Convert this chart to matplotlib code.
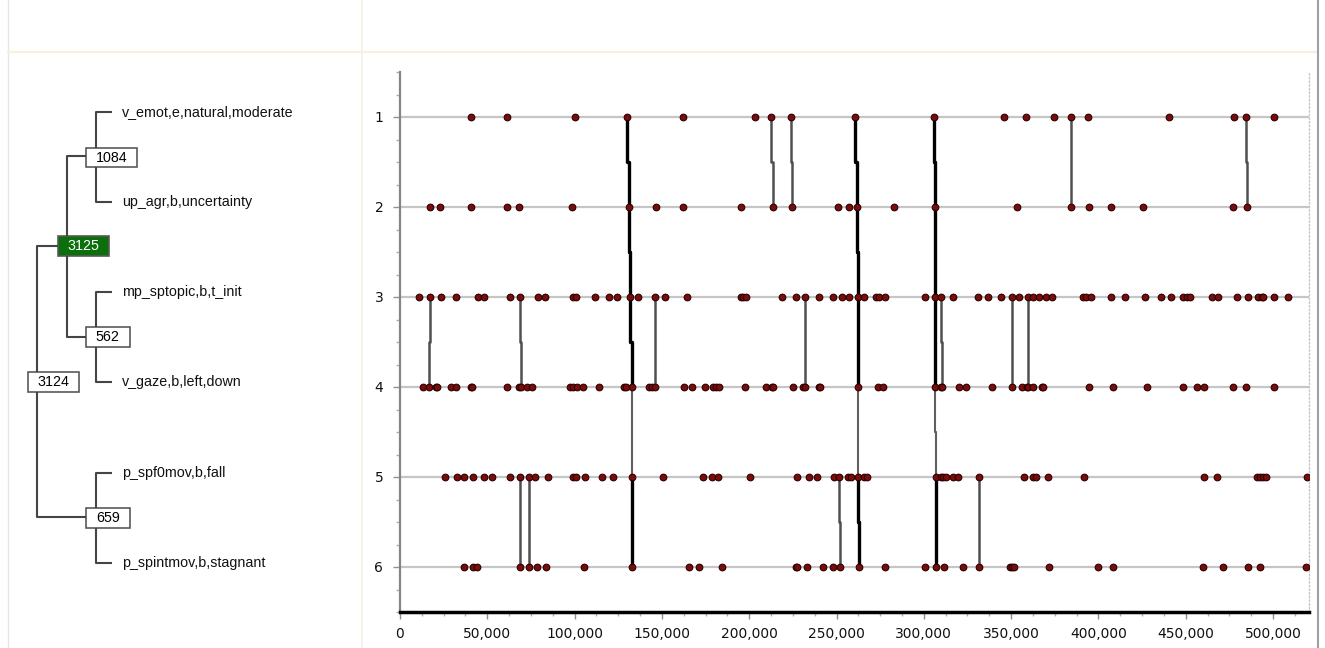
import numpy as np
import matplotlib
matplotlib.use('Agg')
import matplotlib.pyplot as plt
from matplotlib.ticker import MultipleLocator, FuncFormatter
from matplotlib.patches import Rectangle

# event times per row (row 1..6)
row1 = [40800, 61500, 100200, 130200, 161900, 203200, 212500, 223800, 260600, 305800,
        345800, 358400, 374700, 384300, 394100, 440600, 477700, 484400, 500600]
row2 = [17000, 22900, 40800, 61500, 68300, 98500, 131000, 146600, 161900, 195500,
        213500, 224500, 251000, 257200, 261600, 282900, 306600, 353200, 384300, 394600,
        407400, 425700, 476900, 484900]
row3 = [11100, 17000, 23700, 31900, 44500, 48300, 63000, 68900, 79200, 83000,
        99100, 100800, 111900, 119900, 124300, 131700, 136300, 145900, 151800, 164200,
        195100, 196600, 198000, 218600, 226600, 231800, 240000, 248000, 253200, 257200,
        262100, 265900, 272500, 274300, 277800, 300700, 306400, 309700, 316900, 330900,
        337000, 344400, 350400, 354700, 359900, 362700, 366000, 370200, 373300, 391000,
        392900, 395600, 407400, 415400, 426500, 436000, 441400, 448600, 450600, 452500,
        464900, 468700, 479200, 485900, 491600, 493500, 494500, 500600, 508800]
row4 = [13000, 16800, 20600, 21400, 29200, 32100, 40700, 41400, 61300, 68300,
        69100, 72600, 75600, 97400, 99300, 101500, 104600, 114000, 128500, 129300,
        132900, 142800, 144300, 145900, 162800, 167000, 174700, 179400, 181000, 182700,
        197800, 209600, 212900, 213800, 224900, 231000, 232000, 239800, 240700, 262100,
        273600, 276800, 306600, 309700, 310400, 320300, 324200, 339200, 350400, 356100,
        359300, 359900, 362700, 367500, 368500, 394700, 408100, 428000, 448600, 456600,
        460500, 476900, 484400, 500600]
row5 = [25900, 32500, 36500, 41600, 48100, 52700, 63000, 68900, 74100, 77100,
        84600, 99300, 100800, 106100, 115700, 122200, 132700, 150500, 173700, 178500,
        182300, 200600, 227200, 234100, 238700, 248600, 251600, 256800, 258100, 262500,
        265800, 267300, 307000, 309900, 311200, 312700, 316900, 319800, 331800, 357400,
        362700, 364100, 371000, 392000, 460500, 467900, 490700, 492600, 494500, 496000,
        519700]
row6 = [36500, 41600, 44300, 68900, 74100, 78500, 83800, 105200, 132700, 165500,
        171300, 184300, 226800, 227600, 233300, 242400, 248200, 251800, 262900, 277800,
        300700, 307000, 311800, 322600, 331800, 349600, 350400, 351700, 371900, 400000,
        408100, 459700, 471500, 485900, 492600, 518900]
rows = [row1, row2, row3, row4, row5, row6]

# full pattern occurrences: rows 1-4 (3125), link 4->5, rows 5-6 (659)
full_3125 = [[130200, 131000, 131700, 132900],
             [260600, 261600, 262100, 262100],
             [305800, 306600, 306400, 306600]]
full_659 = [[132700, 132700], [262500, 262900], [307000, 307000]]
# sub pattern occurrences
pat_1084 = [[212500, 213500], [223800, 224500], [384300, 384300], [484400, 484900]]
pat_562 = [[17000, 16800], [68900, 69100], [145900, 145900], [231800, 232000],
           [309700, 310400], [350400, 350400], [359900, 359900]]
pat_659 = [[68900, 68900], [74100, 74100], [251600, 251800], [331800, 331800]]

leaf_labels = ['v_emot,e,natural,moderate', 'up_agr,b,uncertainty', 'mp_sptopic,b,t_init',
               'v_gaze,b,left,down', 'p_spf0mov,b,fall', 'p_spintmov,b,stagnant']


def chain(xs, first_row):
    # vertical path with a small jog half way between rows
    px, py = [xs[0]], [first_row]
    for i in range(1, len(xs)):
        mid = first_row + i - 0.5
        px += [xs[i - 1], xs[i], xs[i]]
        py += [mid, mid, first_row + i]
    return px, py


fig = plt.figure(figsize=(13.25, 6.48), dpi=100)

# ---- tree panel (pixel coords) ----
tree = fig.add_axes([0, 0, 1, 1])
tree.set_xlim(0, 1325)
tree.set_ylim(648, 0)
tree.axis('off')

lc = '#454545'
tree.plot([8, 8], [0, 648], color='#e6e6e6', lw=1)
tree.plot([362, 362], [0, 648], color='#f6f1e2', lw=1.2)
tree.plot([8, 1318], [52, 52], color='#f8f0dc', lw=1.5)
tree.plot([1318, 1318], [0, 648], color='#a0a0a0', lw=1.5)

leaf_y = [111.7, 201.7, 292.3, 381.7, 472.7, 562.7]
segs = [
    ([96, 96, 112], [148, 111.7, 111.7]),
    ([96, 96, 112], [167, 201.7, 201.7]),
    ([96, 96, 112], [327, 292.3, 292.3]),
    ([96, 96, 112], [347, 381.7, 381.7]),
    ([96, 96, 112], [508, 472.7, 472.7]),
    ([96, 96, 112], [528, 562.7, 562.7]),
    ([86, 67, 67], [156, 156, 236]),
    ([67, 67, 86], [256, 336.7, 336.7]),
    ([57.7, 36.7, 36.7], [245.7, 245.7, 372]),
    ([36.7, 36.7, 86], [392, 517.3, 517.3]),
]
for xs, ys in segs:
    tree.plot(xs, ys, color=lc, lw=1.5, solid_capstyle='butt')

for lab, y in zip(leaf_labels, leaf_y):
    tree.text(122, y, lab, fontsize=10.3, family='Liberation Sans', va='center', ha='left', color='#111111')

boxes = [('1084', 86, 147.7, 51, 19.6, 'white', 'black'),
         ('3125', 57.7, 236, 51, 20, '#0b6f0b', 'white'),
         ('562', 86, 326.7, 43.7, 20, 'white', 'black'),
         ('3124', 27.7, 372.3, 51.6, 20, 'white', 'black'),
         ('659', 86, 507.7, 43.7, 20, 'white', 'black')]
for txt, bx, by, bw, bh, fc, tc in boxes:
    tree.add_patch(Rectangle((bx, by), bw, bh, facecolor=fc, edgecolor='#5a5a5a', lw=1.2))
    tree.text(bx + bw / 2, by + bh / 2, txt, fontsize=10.3, family='Liberation Sans',
              ha='center', va='center', color=tc)

# ---- event plot ----
ax = fig.add_axes([400 / 1325, 1 - 612 / 648, 909 / 1325, 540 / 648])
ax.set_xlim(0, 520600)
ax.set_ylim(6.5, 0.5)

for r in range(1, 7):
    ax.axhline(r, color='#c6c6c6', lw=1.6, zorder=1)

grey = '#505050'
for occ in pat_1084:
    ax.plot(*chain(occ, 1), color=grey, lw=1.8, zorder=2)
for occ in pat_562:
    ax.plot(*chain(occ, 3), color=grey, lw=1.8, zorder=2)
for occ in pat_659:
    ax.plot(*chain(occ, 5), color=grey, lw=1.8, zorder=2)
for a, b in zip(full_3125, full_659):
    ax.plot(*chain([a[-1], b[0]], 4), color='#606060', lw=1.5, zorder=2)
    ax.plot(*chain(a, 1), color='black', lw=2.4, zorder=3)
    ax.plot(*chain(b, 5), color='black', lw=2.4, zorder=3)

for i, xs in enumerate(rows):
    ax.plot(xs, [i + 1] * len(xs), 'o', ms=4.8, mfc='#7a0c0c', mec='#2b0000', mew=0.8, zorder=4)

ax.xaxis.set_major_locator(MultipleLocator(50000))
ax.xaxis.set_minor_locator(MultipleLocator(12500))
ax.xaxis.set_major_formatter(FuncFormatter(lambda v, p: f'{int(v):,}'))
ax.set_yticks([1, 2, 3, 4, 5, 6])
ax.yaxis.set_minor_locator(MultipleLocator(0.25))
ax.tick_params(axis='both', which='major', length=5, width=1, color='#909090',
               labelsize=10, labelcolor='#111111')
ax.tick_params(axis='both', which='minor', length=3, width=1, color='#b0b0b0')
ax.tick_params(axis='y', which='major', pad=7)
ax.tick_params(axis='x', which='major', pad=6)

ax.spines['top'].set_visible(False)
ax.spines['left'].set_color('#858585')
ax.spines['left'].set_linewidth(1.6)
ax.spines['bottom'].set_color('black')
ax.spines['bottom'].set_linewidth(2.5)
ax.spines['right'].set_color('#c8c8c8')
ax.spines['right'].set_linestyle(':')
ax.spines['right'].set_linewidth(1)

fig.savefig('out.png', dpi=100)
